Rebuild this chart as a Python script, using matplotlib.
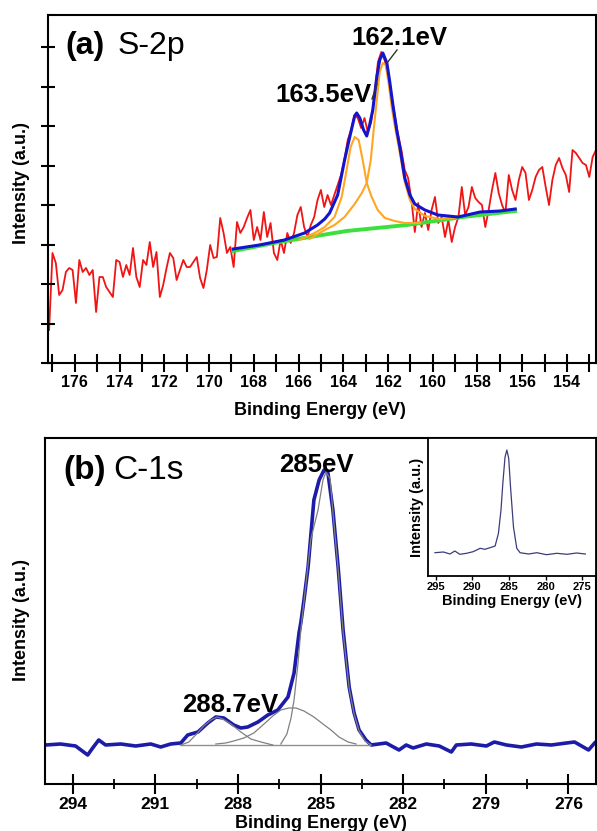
import numpy as np
import matplotlib
matplotlib.use('Agg')
import matplotlib.pyplot as plt
from matplotlib.lines import Line2D
from matplotlib.ticker import MultipleLocator

plt.rcParams['font.family'] = ['Liberation Sans', 'DejaVu Sans']

# ---------------- (a) S-2p ----------------
# raw spectrum, sampled every 0.15 eV starting at 177.15 eV
s2p_energy = np.round(177.15 - 0.15 * np.arange(164), 2)
s2p_counts = [33, 110, 100, 68, 73, 91, 95, 93, 60, 103,
              91, 95, 88, 93, 51, 86, 86, 76, 71, 66,
              103, 101, 86, 98, 88, 115, 86, 76, 103, 98,
              121, 96, 111, 66, 78, 95, 110, 105, 83, 93,
              103, 96, 96, 101, 106, 85, 75, 93, 118, 105,
              106, 145, 130, 110, 116, 96, 141, 130, 136, 145,
              153, 123, 136, 123, 151, 126, 140, 110, 103, 123,
              110, 130, 120, 130, 148, 156, 136, 126, 138, 146,
              163, 173, 156, 168, 158, 168, 178, 188, 203, 223,
              233, 248, 245, 235, 245, 231, 241, 268, 301, 311,
              303, 288, 268, 248, 228, 213, 193, 185, 163, 131,
              160, 136, 150, 133, 153, 166, 140, 146, 126, 143,
              121, 136, 146, 176, 148, 156, 176, 165, 161, 158,
              136, 153, 173, 190, 170, 158, 150, 188, 173, 163,
              183, 196, 190, 163, 173, 186, 193, 196, 176, 158,
              183, 198, 205, 195, 188, 171, 213, 210, 205, 200,
              198, 186, 206, 213]

# fitted envelope
s2p_fit_e = [168.92, 167.75, 166.63, 165.73, 165.15, 164.83, 164.61, 164.25,
             163.94, 163.71, 163.49, 163.40, 163.26, 163.09, 162.95, 162.82,
             162.68, 162.50, 162.37, 162.23, 162.05, 161.92, 161.78, 161.61,
             161.47, 161.25, 161.02, 160.80, 160.35, 159.77, 158.87, 157.88,
             156.99, 156.31]
s2p_fit_i = [114, 118, 123, 130, 138, 144, 150, 168, 203, 226, 247, 250, 245,
             233, 227, 238, 253, 286, 303, 310, 300, 281, 258, 233, 216, 185,
             168, 159, 153, 148, 146, 151, 152, 154]

# background
s2p_bg_e = [168.92, 166.85, 163.85, 161.16, 158.65, 156.31]
s2p_bg_i = [112, 121, 132, 138, 146, 152]

# component 163.5 eV
s2p_c1_e = [165.96, 165.28, 164.83, 164.39, 164.07, 163.85, 163.67, 163.49,
            163.31, 163.13, 162.95, 162.73, 162.46, 162.14, 161.70, 161.25,
            160.57]
s2p_c1_i = [123, 130, 136, 146, 166, 193, 216, 226, 223, 203, 180, 166, 153,
            145, 142, 140, 140]

# component 162.1 eV
s2p_c2_e = [165.51, 164.83, 164.39, 163.94, 163.49, 163.17, 162.95, 162.77,
            162.64, 162.50, 162.37, 162.23, 162.10, 161.96, 161.83, 161.70,
            161.56, 161.43, 161.25, 161.02, 160.80, 160.35, 159.68, 159.00]
s2p_c2_i = [124, 133, 138, 146, 159, 170, 180, 203, 233, 263, 291, 300, 298,
            278, 255, 238, 221, 205, 181, 163, 154, 147, 144, 145]

# ---------------- (b) C-1s ----------------
c1s_e = [294.98, 294.44, 293.89, 293.45, 293.27, 293.05, 292.80, 292.25,
         291.71, 291.16, 290.80, 290.44, 290.07, 289.82, 289.45, 289.09,
         288.80, 288.51, 288.15, 287.89, 287.64, 287.27, 286.91, 286.55,
         286.18, 285.96, 285.78, 285.71, 285.60, 285.45, 285.24, 285.05,
         284.87, 284.73, 284.55, 284.36, 284.18, 283.96, 283.78, 283.60,
         283.35, 283.16, 282.62, 282.15, 281.89, 281.64, 281.16, 280.69,
         280.25, 280.07, 279.53, 278.98, 278.69, 278.25, 277.71, 277.16,
         276.62, 276.07, 275.78, 275.27, 275.05]
c1s_i = [39, 40, 38, 29, 36, 44, 39, 40, 38, 40, 37, 40, 41, 49, 52, 61, 67,
         66, 59, 56, 57, 62, 69, 74, 87, 111, 151, 162, 184, 217, 284, 304,
         314, 311, 274, 217, 154, 97, 71, 54, 44, 39, 41, 34, 39, 36, 40, 38,
         32, 39, 40, 38, 42, 39, 37, 40, 39, 41, 42, 34, 41]

c1s_p1_e = [286.44, 286.22, 286.07, 285.96, 285.82, 285.71, 285.53, 285.35,
            285.09, 284.91, 284.80, 284.65, 284.55, 284.36, 284.18, 283.96,
            283.78, 283.60, 283.38, 283.16]
c1s_p1_i = [40, 50, 66, 84, 120, 155, 200, 245, 274, 304, 312, 305, 272, 215,
            152, 96, 70, 53, 43, 39]

c1s_p2_e = [288.80, 288.44, 288.15, 287.78, 287.42, 287.05, 286.73, 286.44,
            286.15, 285.89, 285.60, 285.24, 284.91, 284.62, 284.33, 284.00,
            283.71]
c1s_p2_i = [40, 41, 43, 46, 51, 60, 68, 74, 76, 76, 73, 67, 60, 54, 47, 42, 40]

c1s_p3_e = [290.07, 289.78, 289.53, 289.24, 288.98, 288.76, 288.55, 288.25,
            287.89, 287.53, 287.16, 286.73]
c1s_p3_i = [39, 42, 49, 58, 64, 67, 65, 60, 52, 45, 42, 39]

c1s_base_e = [290.1, 283.2]
c1s_base_i = [39, 39]

# inset: survey of C-1s
ins_e = [295.1, 293.95, 293.05, 292.4, 291.7, 290.8, 289.9, 288.95, 288.3,
         287.6, 286.9, 286.45, 286.1, 285.85, 285.55, 285.3, 285.05, 284.8,
         284.4, 283.95, 283.5, 282.35, 281.2, 279.9, 278.5, 277.1, 275.8, 274.6]
ins_i = [23.3, 24, 22, 25, 21.7, 22.7, 24.3, 27.7, 26.7, 28.3, 30, 42.7, 66,
         92.7, 119, 126, 117.7, 89, 49, 27.7, 23.3, 22, 23.3, 21.3, 22.7, 21.7,
         23, 22]

W, H = 597, 831


def fx(px):
    return px / W


def fy(py):
    return 1 - py / H


fig = plt.figure(figsize=(W / 100, H / 100), dpi=100)

# ---- panel (a)
ax = fig.add_axes([fx(48), fy(363), fx(596) - fx(48), fy(15) - fy(363)])
ax.plot(s2p_energy, s2p_counts, color='#f01414', lw=1.3, zorder=1)
ax.plot(s2p_bg_e, s2p_bg_i, color='#3ce03c', lw=2.8, zorder=2)
ax.plot(s2p_c1_e, s2p_c1_i, color='#ffa622', lw=1.5, zorder=3)
ax.plot(s2p_c2_e, s2p_c2_i, color='#ffa622', lw=1.5, zorder=3)
ax.plot(s2p_fit_e, s2p_fit_i, color='#1414cc', lw=2.2, zorder=4)
ax.set_xlim(177.2, 152.7)
ax.set_ylim(0, 348)
ax.xaxis.set_major_locator(MultipleLocator(2))
ax.xaxis.set_minor_locator(MultipleLocator(1))
ax.yaxis.set_major_locator(MultipleLocator(39.5))
ax.tick_params(axis='x', which='both', direction='inout', length=13, width=1.5,
               labelsize=11.5, pad=2)
ax.tick_params(axis='y', which='both', direction='inout', length=10, width=1.5,
               labelleft=False)
for lbl in ax.get_xticklabels():
    lbl.set_fontweight('bold')
for s in ax.spines.values():
    s.set_linewidth(1.5)

fig.text(fx(65), fy(54), '(a)', fontsize=23, fontweight='bold', va='baseline')
fig.text(fx(118), fy(54), 'S-2p', fontsize=23, va='baseline')
fig.text(fx(399), fy(45), '162.1eV', fontsize=18.5, fontweight='bold',
         ha='center', va='baseline')
fig.text(fx(323), fy(102), '163.5eV', fontsize=18.5, fontweight='bold',
         ha='center', va='baseline')
fig.add_artist(Line2D([fx(397), fx(387)], [fy(50), fy(63)], color='#333333',
                      lw=1.0))
fig.add_artist(Line2D([fx(372), fx(377)], [fy(99), fy(84)], color='#333333',
                      lw=1.0))
fig.text(fx(22), fy(183), 'Intensity (a.u.)', fontsize=13, fontweight='bold',
         rotation=90, ha='center', va='center')
fig.text(fx(320), fy(415), 'Binding Energy (eV)', fontsize=13,
         fontweight='bold', ha='center', va='baseline')

# ---- panel (b)
bx = fig.add_axes([fx(45), fy(784), fx(596) - fx(45), fy(438) - fy(784)])
bx.plot(c1s_e, c1s_i, color='#1c1ca8', lw=2.6, zorder=2)
bx.plot(c1s_base_e, c1s_base_i, color='#909090', lw=1.0, zorder=3)
bx.plot(c1s_p1_e, c1s_p1_i, color='#808080', lw=0.9, zorder=3)
bx.plot(c1s_p2_e, c1s_p2_i, color='#808080', lw=0.9, zorder=3)
bx.plot(c1s_p3_e, c1s_p3_i, color='#808080', lw=0.9, zorder=3)
bx.set_xlim(295, 275)
bx.set_ylim(0, 346)
bx.xaxis.set_major_locator(MultipleLocator(3))
bx.xaxis.set_minor_locator(MultipleLocator(1.5))
bx.set_yticks([])
bx.tick_params(axis='x', which='major', direction='inout', length=15,
               width=1.5, labelsize=12.5, pad=2)
bx.tick_params(axis='x', which='minor', direction='inout', length=7, width=1.3)
for lbl in bx.get_xticklabels():
    lbl.set_fontweight('bold')
for s in bx.spines.values():
    s.set_linewidth(1.5)

fig.text(fx(63), fy(479), '(b)', fontsize=24, fontweight='bold', va='baseline')
fig.text(fx(113), fy(479), 'C-1s', fontsize=24, va='baseline')
fig.text(fx(316), fy(472), '285eV', fontsize=18.5, fontweight='bold',
         ha='center', va='baseline', zorder=5)
fig.text(fx(230), fy(712), '288.7eV', fontsize=18.5, fontweight='bold',
         ha='center', va='baseline')
fig.text(fx(22), fy(620), 'Intensity (a.u.)', fontsize=13, fontweight='bold',
         rotation=90, ha='center', va='center')
fig.text(fx(321), fy(828), 'Binding Energy (eV)', fontsize=13,
         fontweight='bold', ha='center', va='baseline')

# ---- inset
ix = fig.add_axes([fx(428), fy(576), fx(596) - fx(428), fy(438) - fy(576)])
ix.plot(ins_e, ins_i, color='#3c3c7c', lw=0.9)
ix.set_xlim(296.05, 273.15)
ix.set_ylim(0, 138)
ix.xaxis.set_major_locator(MultipleLocator(5))
ix.set_yticks([])
ix.tick_params(axis='x', direction='out', length=3, width=1, labelsize=8,
               pad=1.5)
for lbl in ix.get_xticklabels():
    lbl.set_fontweight('bold')
for s in ix.spines.values():
    s.set_linewidth(1.3)
ix.set_ylabel('Intensity (a.u.)', fontsize=10.5, fontweight='bold', labelpad=3)
ix.set_xlabel('Binding Energy (eV)', fontsize=10.5, fontweight='bold',
              labelpad=1)

fig.savefig('out.png', dpi=100)
